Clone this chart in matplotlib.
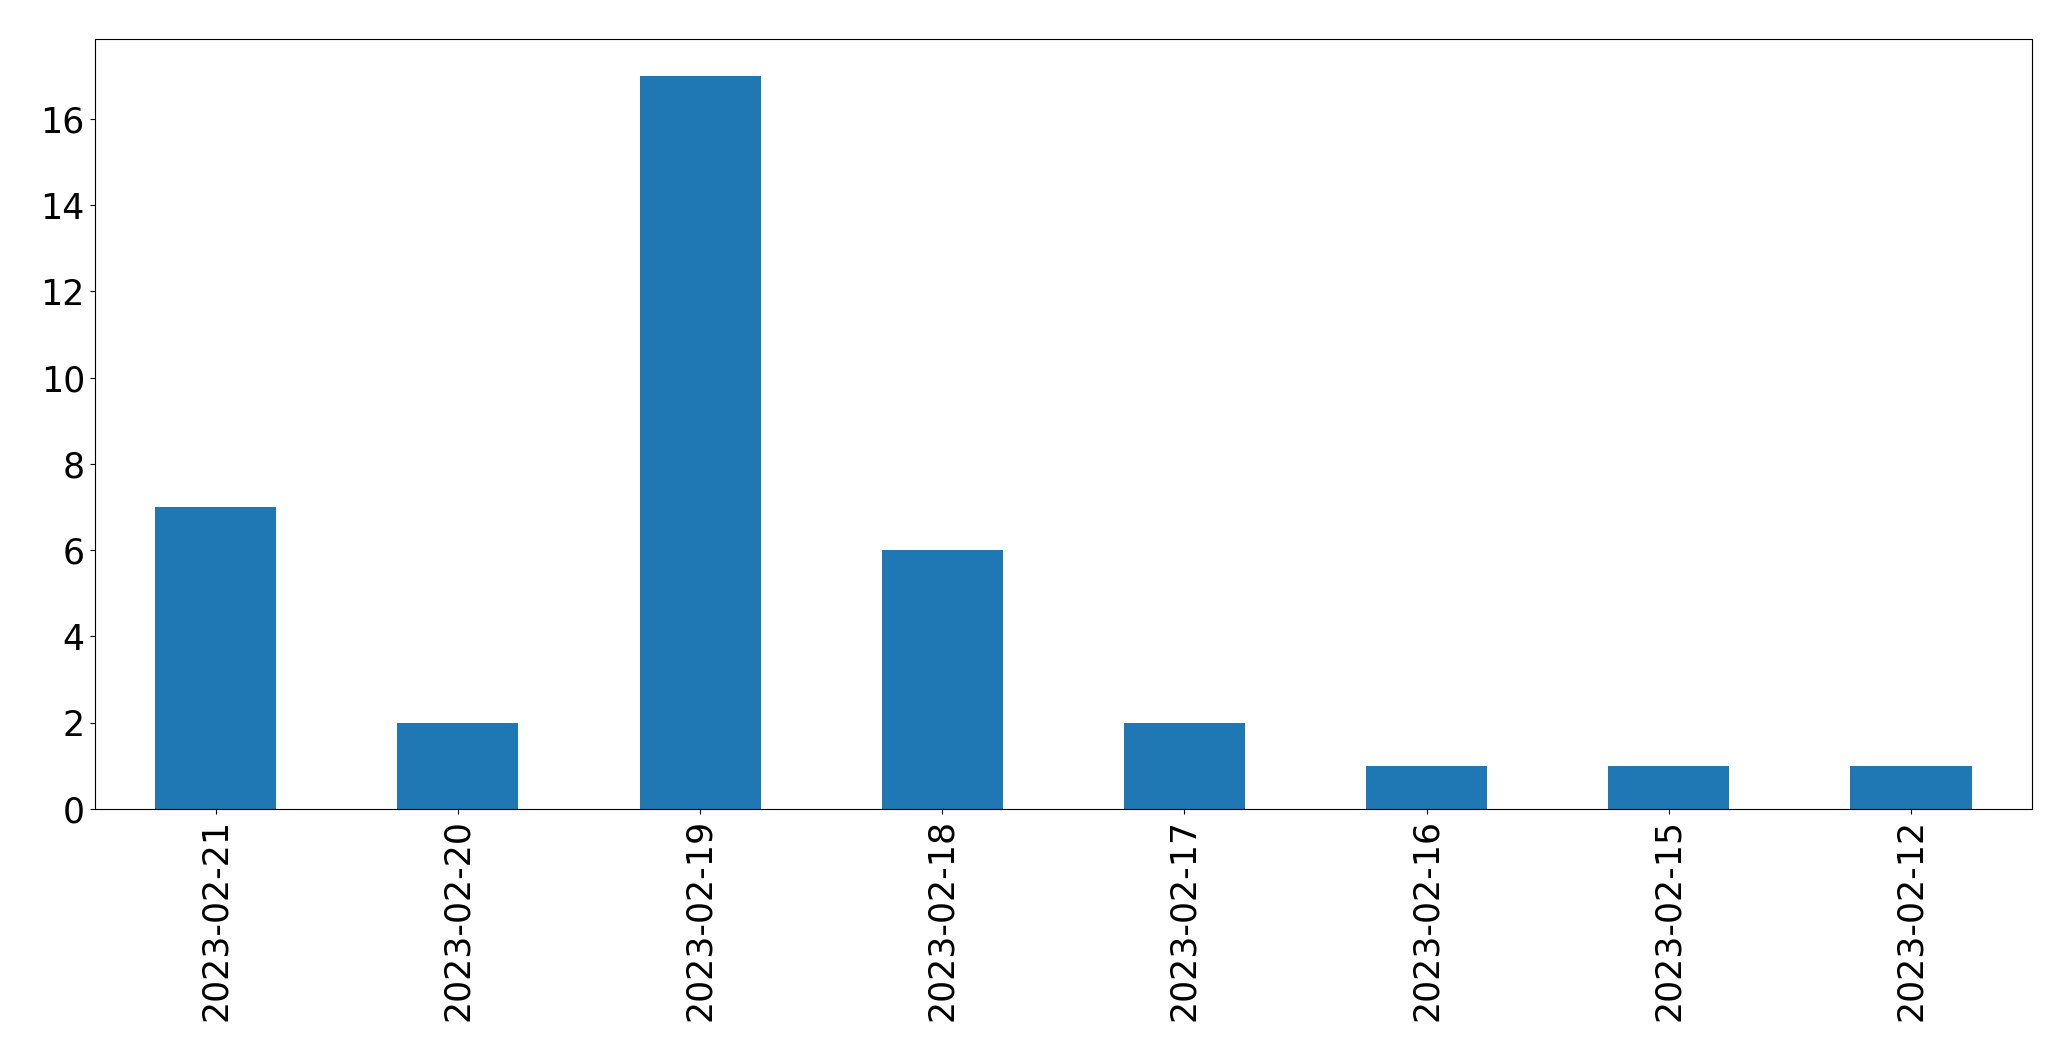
import matplotlib
matplotlib.use("Agg")
import matplotlib.pyplot as plt

dates = ["2023-02-21", "2023-02-20", "2023-02-19", "2023-02-18",
         "2023-02-17", "2023-02-16", "2023-02-15", "2023-02-12"]
counts = [7, 2, 17, 6, 2, 1, 1, 1]

fig = plt.figure(figsize=(20.71, 10.61), dpi=100)
ax = fig.add_axes([0.0457, 0.2375, 0.9355, 0.7257])
x = list(range(len(dates)))
ax.bar(x, counts, width=0.5, color="#1f77b4")
ax.set_xlim(-0.5, len(dates) - 0.5)
ax.set_ylim(0, max(counts) * 1.05)
ax.set_xticks(x)
ax.set_xticklabels(dates, rotation=90)
ax.set_yticks(range(0, 17, 2))
ax.tick_params(labelsize=25)
fig.savefig("out.png", dpi=100)
